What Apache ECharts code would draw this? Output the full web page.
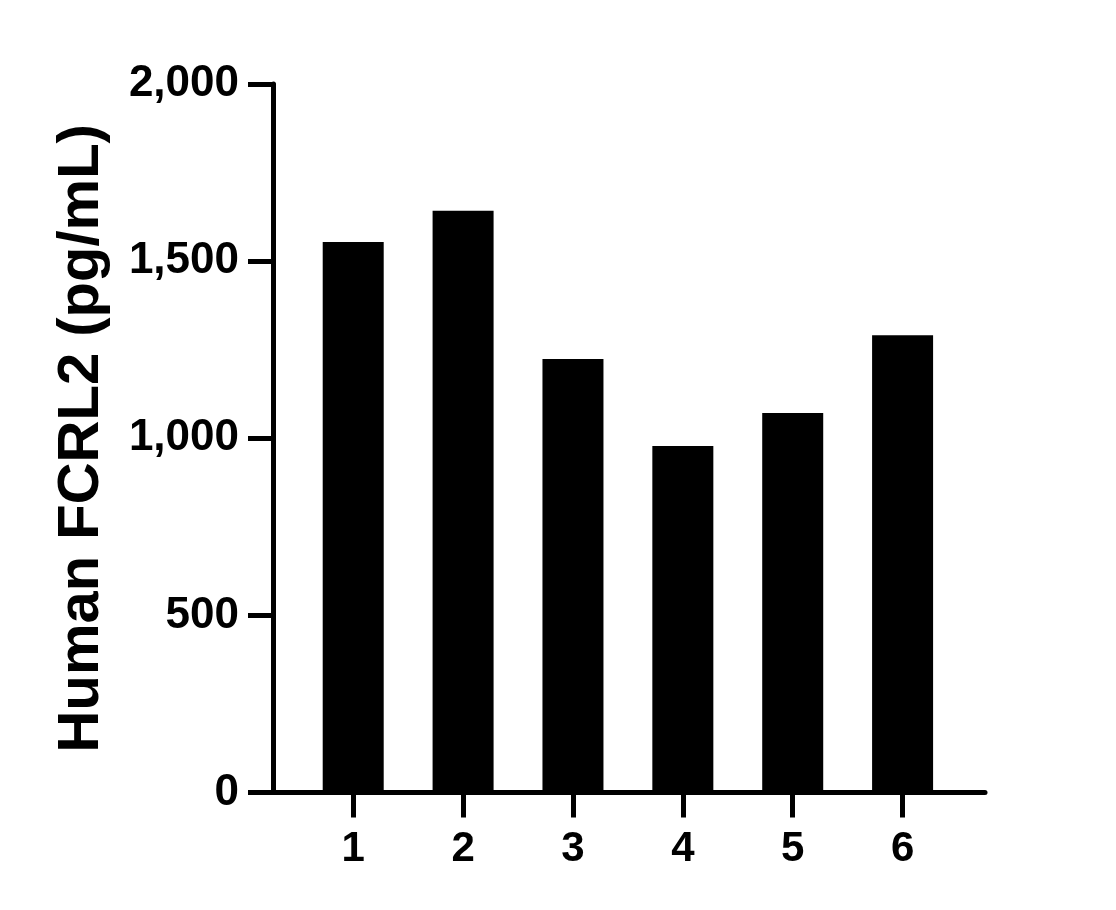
<!DOCTYPE html>
<html>
<head>
<meta charset="utf-8">
<script src="https://cdn.jsdelivr.net/npm/echarts@6/dist/echarts.min.js"></script>
<style>
  html, body { margin: 0; padding: 0; background: #ffffff; }
  #chart { width: 1116px; height: 910px; }
</style>
</head>
<body>
<div id="chart"></div>
<script>
// Data
const categories = [1, 2, 3, 4, 5, 6];
const values = [1554, 1642, 1224, 978, 1071, 1291];
const yTicks = [0, 500, 1000, 1500, 2000];
const yTitle = 'Human FCRL2 (pg/mL)';

const FONT = '"Liberation Sans", Arial, Helvetica, sans-serif';

const chart = echarts.init(document.getElementById('chart'), null, { renderer: 'canvas' });
chart.setOption({
  backgroundColor: '#ffffff',
  animation: false,
  grid: { left: 273, right: 131, top: 84, bottom: 117.5, containLabel: false },
  xAxis: {
    type: 'value',
    min: 0.27,
    max: 6.75,
    axisLine: { show: true, lineStyle: { color: '#000', width: 5 } },
    axisTick: { show: true, customValues: categories, length: 25, lineStyle: { color: '#000', width: 5 } },
    axisLabel: {
      show: true, customValues: categories, margin: 36,
      color: '#000', fontFamily: FONT, fontWeight: 'bold', fontSize: 42
    },
    splitLine: { show: false }
  },
  yAxis: {
    type: 'value',
    min: yTicks[0],
    max: yTicks[yTicks.length - 1],
    interval: 500,
    name: yTitle,
    nameLocation: 'middle',
    nameRotate: 90,
    nameGap: 162,
    nameTextStyle: { color: '#000', fontFamily: FONT, fontWeight: 'bold', fontSize: 58 },
    axisLine: { show: true, lineStyle: { color: '#000', width: 5 } },
    axisTick: { show: true, length: 25, lineStyle: { color: '#000', width: 5 } },
    axisLabel: {
      show: true, margin: 34,
      color: '#000', fontFamily: FONT, fontWeight: 'bold', fontSize: 44,
      formatter: v => v.toLocaleString('en-US')
    },
    splitLine: { show: false }
  },
  series: [{
    type: 'bar',
    data: categories.map((c, i) => [c, values[i]]),
    barWidth: 61,
    itemStyle: { color: '#000' },
    z: 1
  }]
});
</script>
</body>
</html>
